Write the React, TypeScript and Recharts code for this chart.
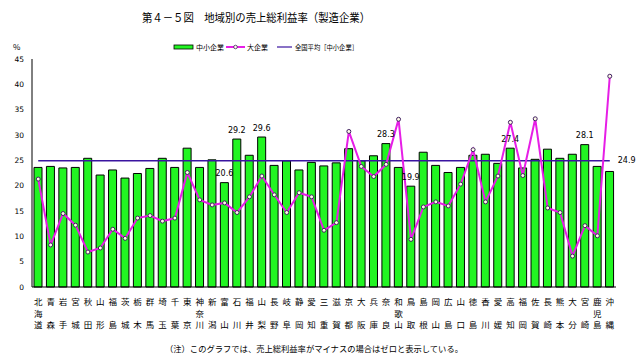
import { ComposedChart, Bar, Line, XAxis, YAxis, LabelList } from 'recharts';

const prefectures = [
  '北海道', '青森', '岩手', '宮城', '秋田', '山形', '福島', '茨城', '栃木', '群馬',
  '埼玉', '千葉', '東京', '神奈川', '新潟', '富山', '石川', '福井', '山梨', '長野',
  '岐阜', '静岡', '愛知', '三重', '滋賀', '京都', '大阪', '兵庫', '奈良', '和歌山',
  '鳥取', '島根', '岡山', '広島', '山口', '徳島', '香川', '愛媛', '高知', '福岡',
  '佐賀', '長崎', '熊本', '大分', '宮崎', '鹿児島', '沖縄',
];

// 中小企業
const smeRatio = [
  23.6, 23.8, 23.5, 23.6, 25.4, 22.1, 23.1, 21.5, 22.4, 23.4,
  25.4, 23.6, 27.4, 23.6, 25.1, 20.6, 29.2, 26.0, 29.6, 24.0,
  24.9, 23.1, 24.6, 23.9, 24.5, 27.3, 24.9, 25.9, 28.3, 23.6,
  19.9, 26.6, 24.0, 22.6, 23.6, 26.0, 26.2, 24.4, 27.4, 23.5,
  25.2, 27.2, 25.4, 26.2, 28.1, 23.8, 22.8,
];

// 大企業
const largeRatio = [
  21.3, 8.3, 14.5, 12.2, 6.9, 7.7, 11.4, 9.6, 13.6, 14.1,
  13.0, 13.6, 22.6, 17.2, 16.2, 16.6, 14.7, 17.8, 21.9, 18.2,
  14.7, 18.6, 17.8, 11.2, 12.7, 30.7, 23.8, 21.8, 24.2, 33.1,
  9.4, 15.8, 16.8, 16.0, 20.3, 27.1, 16.8, 21.9, 32.5, 22.0,
  33.2, 15.6, 14.7, 6.1, 12.1, 10.1, 41.6,
];

const nationalAvg = 24.9;
const labeledPrefs = ['富山', '石川', '山梨', '奈良', '鳥取', '高知', '宮崎'];
const yTicks = [0, 5, 10, 15, 20, 25, 30, 35, 40, 45];

const data = prefectures.map((name, i) => ({
  name,
  sme: smeRatio[i],
  large: largeRatio[i],
  avg: nationalAvg,
}));

const FONT = "'Noto Sans CJK JP', sans-serif";
const NUM_FONT = "'DejaVu Sans', sans-serif";

const PrefTick = ({ x, payload }: any) => {
  const s: string = payload.value;
  const chars = [s[0], s.length === 3 ? s[1] : '', s[s.length - 1]];
  const rows = [301, 312.5, 324];
  return (
    <g>
      {chars.map((c, k) =>
        c ? (
          <text key={k} x={x} y={rows[k]} textAnchor="middle" dominantBaseline="central"
            fontSize={8.5} fontFamily={FONT} fill="#000">
            {c}
          </text>
        ) : null
      )}
    </g>
  );
};

const BarValueLabel = ({ x, y, width, value, index }: any) => {
  if (!labeledPrefs.includes(prefectures[index])) return null;
  return (
    <text x={x + width / 2} y={y - 9} textAnchor="middle" dominantBaseline="central"
      fontSize={8} fontFamily={NUM_FONT} fill="#000">
      {value.toFixed(1)}
    </text>
  );
};

const AvgLabel = ({ x, y, value, index }: any) => {
  if (index !== prefectures.length - 1) return null;
  return (
    <text x={x + 8} y={y} dominantBaseline="central" fontSize={8}
      fontFamily={NUM_FONT} fill="#000">
      {value.toFixed(1)}
    </text>
  );
};

export default function App() {
  return (
    <div style={{ position: 'absolute', left: 0, top: 0, width: 642, height: 359, background: '#fff' }}>
      <ComposedChart width={642} height={359} data={data}
        margin={{ top: 59, right: 26, bottom: 0, left: 0 }}>
        <XAxis dataKey="name" interval={0} height={72} tick={<PrefTick />}
          tickLine={false} axisLine={{ stroke: '#000' }} />
        <YAxis width={32} domain={[0, 45]} ticks={yTicks} interval={0}
          tick={{ fontSize: 7.5, fill: '#000', fontFamily: NUM_FONT }}
          tickLine={false} axisLine={{ stroke: '#000' }} />
        <Bar dataKey="sme" fill="#22f522" stroke="#000" strokeWidth={1} barSize={8}
          isAnimationActive={false}>
          <LabelList dataKey="sme" content={<BarValueLabel />} />
        </Bar>
        <Line dataKey="avg" stroke="#3a14a0" strokeWidth={1.5} dot={false}
          isAnimationActive={false}>
          <LabelList dataKey="avg" content={<AvgLabel />} />
        </Line>
        <Line dataKey="large" stroke="#e61ee6" strokeWidth={2}
          dot={{ r: 2, fill: '#fffbe8', stroke: '#402060', strokeWidth: 1 }}
          isAnimationActive={false} />
      </ComposedChart>
      <svg width={642} height={359} style={{ position: 'absolute', left: 0, top: 0, pointerEvents: 'none' }}>
        <text x={142} y={17} dominantBaseline="central" fontSize={11.5} fontFamily={FONT}
          textLength={228} lengthAdjust="spacingAndGlyphs">
          第４－５図　地域別の売上総利益率（製造企業）
        </text>
        <text x={13} y={46} dominantBaseline="central" fontSize={8} fontFamily={FONT}>%</text>
        <rect x={174} y={45} width={19} height={4} fill="#22f522" stroke="#000" strokeWidth={0.8} />
        <text x={196} y={47} dominantBaseline="central" fontSize={7} fontFamily={FONT}>中小企業</text>
        <line x1={226} x2={245} y1={47} y2={47} stroke="#e61ee6" strokeWidth={2} />
        <circle cx={235.5} cy={47} r={1.8} fill="#fffbe8" stroke="#402060" strokeWidth={0.8} />
        <text x={247} y={47} dominantBaseline="central" fontSize={7} fontFamily={FONT}>大企業</text>
        <line x1={277} x2={292} y1={47} y2={47} stroke="#3a14a0" strokeWidth={1.2} />
        <text x={295} y={47} dominantBaseline="central" fontSize={7} fontFamily={FONT}
          textLength={63} lengthAdjust="spacingAndGlyphs">全国平均［中小企業］</text>
        <text x={165} y={348} dominantBaseline="central" fontSize={8.5} fontFamily={FONT}
          textLength={298} lengthAdjust="spacingAndGlyphs">
          （注）このグラフでは、売上総利益率がマイナスの場合はゼロと表示している。
        </text>
      </svg>
    </div>
  );
}
